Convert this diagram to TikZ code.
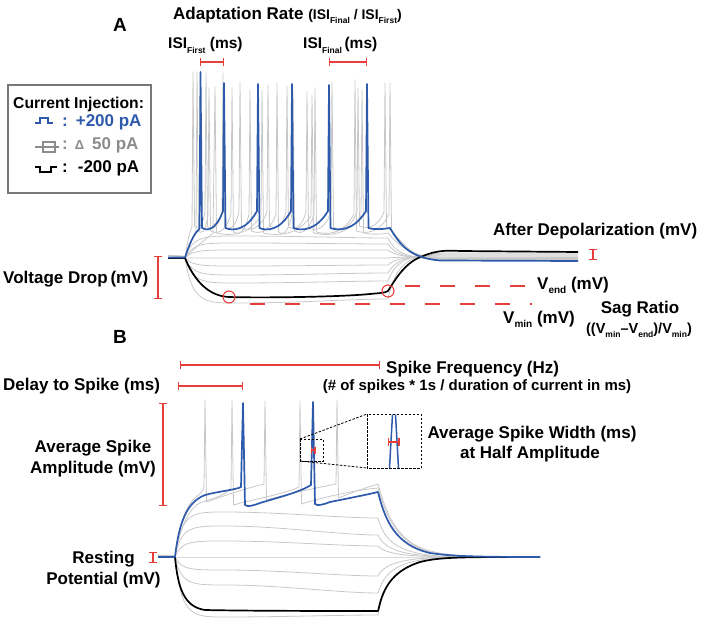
\documentclass[tikz,border=0pt]{standalone}
\usepackage{fontspec}
\setmainfont{Liberation Sans}
\usetikzlibrary{arrows.meta}
\definecolor{tblue}{RGB}{46,90,172}
\definecolor{tred}{RGB}{232,62,58}
\definecolor{tgray}{RGB}{200,200,200}
\definecolor{lgray}{RGB}{140,140,140}
\definecolor{bgray}{RGB}{120,120,120}
\newcommand{\lsub}[2][8.5]{\raisebox{-0.28em}{\fontsize{#1}{#1}\selectfont #2}}
\newcommand{\gsubA}[3]{\draw[graytr] (185,258) .. controls (192,#1) and (205,#1) .. (235,#1) .. controls (300,#1) and (350,#2) .. (388,#2) .. controls (396,{#2+0.8*(#3-#2)}) and (410,#3) .. (450,#3) -- (578,#3);}
\newcommand{\gsubB}[2]{\draw[graytr] (175,557) .. controls (181,#1) and (192,#1) .. (225,#1) .. controls (280,#1) and (340,#2) .. (378,#2) .. controls (386,{#2+0.75*(557-#2)}) and (405,557) .. (470,557) -- (540,557);}
\begin{document}
\begin{tikzpicture}[x=1pt,y=-1pt,
 lbl/.style={font={\bfseries\fontsize{17}{19}\selectfont}, inner sep=0pt},
 graytr/.style={draw=tgray, line width=0.8pt, line join=round},
 bluetr/.style={draw=tblue, line width=1.7pt, line join=round},
 blacktr/.style={draw=black, line width=1.7pt, line join=round},
 redbar/.style={draw=tred, line width=1.2pt, {Bar[width=8pt]}-{Bar[width=8pt]}},
 reddash/.style={draw=tred, line width=1.2pt, dash pattern=on 15pt off 20pt},
 zoomdash/.style={draw=black, line width=0.8pt, dash pattern=on 2.5pt off 1.5pt}]
\useasboundingbox (0,0) rectangle (702,623);

% ---------------- Panel A traces ----------------
\draw[graytr, line width=1.6pt] (168,255.5) -- (185,256.5);
\gsubA{236}{238}{259}
\gsubA{243}{244}{259}
\gsubA{250}{250}{258}
\gsubA{258}{258}{257}
\gsubA{266}{265}{256}
\gsubA{275}{273}{255}
\gsubA{283}{281}{254}
\gsubA{303}{299}{253}
% gray spiking traces
\draw[graytr] (185,258) .. controls (187,245) and (189,233) .. (192,227) -- (193,72)
 \foreach \pa/\nx/\hh/\tr in {193/206/73/226, 206/223/73/227, 223/240/82/227, 240/268/85/228, 268/287/86/226, 287/307/92/227, 307/332/82/228, 332/358/88/227, 358/385/83/226}
 { -- (\pa+1.5,\tr) .. controls ({\pa+0.3*(\nx-\pa)},\tr+3) and ({\nx-0.3*(\nx-\pa)},\tr+3) .. (\nx-1,212) -- (\nx,\hh) }
 -- (386.5,227) .. controls (395,232) and (405,250) .. (420,256) .. controls (430,259) and (440,259) .. (455,258.5) -- (578,258.5);
\draw[graytr] (185,258) .. controls (188,248) and (192,238) .. (196,231) -- (197,72)
 \foreach \pa/\nx/\hh/\tr in {197/209/88/231, 209/232/88/231, 232/250/90/232, 250/277/83/231, 277/293/90/232, 293/315/88/231, 315/355/80/232, 355/390/83/231}
 { -- (\pa+1.5,\tr) .. controls ({\pa+0.3*(\nx-\pa)},\tr+3) and ({\nx-0.3*(\nx-\pa)},\tr+3) .. (\nx-1,214) -- (\nx,\hh) }
 -- (391.5,230) .. controls (398,238) and (405,252) .. (420,257) .. controls (430,260) and (440,260) .. (455,259.5) -- (578,259.5);
\draw[graytr] (185,258) .. controls (192,250) and (205,240) .. (213,233) -- (215,87)
 \foreach \pa/\nx/\hh/\tr in {215/262/90/233, 262/312/95/233, 312/362/90/233}
 { -- (\pa+1.5,\tr) .. controls ({\pa+0.3*(\nx-\pa)},\tr+3) and ({\nx-0.3*(\nx-\pa)},\tr+3) .. (\nx-1,216) -- (\nx,\hh) }
 -- (363.5,233) .. controls (372,235) and (384,234) .. (388,233) .. controls (398,245) and (410,256) .. (440,258) -- (578,257.5);
% black trace A
\draw[blacktr] (168,258) -- (185,258) .. controls (192,275) and (205,296) .. (229,297) .. controls (260,298) and (340,297) .. (370,294) .. controls (380,293) and (385,293) .. (388,291) .. controls (395,280) and (405,262) .. (423,256) .. controls (435,251) and (445,250) .. (460,251) -- (578,252);
% blue trace A
\draw[bluetr] (168,257.5) -- (185,257.5) .. controls (189,245) and (194,233) .. (199.5,229) -- (200.5,72)
 \foreach \pa/\nx/\hh in {200.5/224/83, 224/258/84, 258/292/84, 292/329/85, 329/367/84}
 { -- (\pa+1.5,228) .. controls ({\pa+0.25*(\nx-\pa)},231) and ({\nx-0.35*(\nx-\pa)},231) .. (\nx-1,211) -- (\nx,\hh) }
 -- (368.5,228) .. controls (375,230) and (384,229) .. (390,228) .. controls (400,245) and (410,258) .. (440,260.5) -- (578,261);

% ---------------- Panel A annotations ----------------
\node[lbl, font={\bfseries\fontsize{19}{19}\selectfont}, anchor=base] (lA) at (120,32) {A};
\node[lbl, anchor=base west] (adapt) at (173,20) {Adaptation Rate {\fontsize{14}{16}\selectfont(ISI\lsub[8.5]{Final} / ISI\lsub[8.5]{First})}};
\node[lbl, anchor=base west, font={\bfseries\fontsize{15.5}{17}\selectfont}] (isif) at (168,49) {ISI\lsub{First} (ms)};
\node[lbl, anchor=base west, font={\bfseries\fontsize{15.5}{17}\selectfont}] (isil) at (303,49) {ISI\lsub{Final}\,(ms)};
\draw[redbar] (200,62) -- (224,62);
\draw[redbar] (329,62) -- (367,62);

% legend
\draw[draw=bgray, line width=1.3pt] (8,85) rectangle (151,193);
\node[lbl, anchor=base west, font={\bfseries\fontsize{15.7}{17}\selectfont}] (legt) at (13,109) {Current Injection:};
\draw[tblue, line width=2.6pt] (35,123) -- (40,123) -- (40,118) -- (48,118) -- (48,123) -- (53,123);
\node[lbl, anchor=base west, text=tblue] (leg1) at (62,127) {:\hspace{8pt}+200 pA};
\draw[lgray, line width=1.5pt] (35,147) -- (59,147);
\draw[lgray, line width=1.5pt] (43,142) rectangle (55,152);
\node[lbl, anchor=base west, text=lgray] (leg2) at (62,150) {:\hspace{7pt}{\fontsize{13}{13}\selectfont Δ}\hspace{8pt}50 pA};
\draw[black, line width=2.6pt] (35,167) -- (40,167) -- (40,172) -- (51,172) -- (51,167) -- (57,167);
\node[lbl, anchor=base west] (leg3) at (62,173) {:\hspace{10pt}-200 pA};

\node[lbl, anchor=base west] (adp) at (493,235) {After Depolarization (mV)};
\draw[redbar] (593,249) -- (593,260);
\node[lbl, anchor=base west] (vdrop) at (3,283) {Voltage Drop\,(mV)};
\draw[redbar] (158,256) -- (158,299);
\draw[tred, line width=1.1pt] (229,297) circle[radius=6pt];
\draw[tred, line width=1.1pt] (388,291) circle[radius=6pt];
\coordinate (ve0) at (405,286); \coordinate (ve1) at (532,286);
\coordinate (vm0) at (250,304); \coordinate (vm1) at (532,304);
\draw[reddash] (ve0) -- (ve1);
\draw[reddash] (vm0) -- (vm1);
\node[lbl, anchor=base west] (vend) at (537,289) {V\lsub[10]{end} (mV)};
\node[lbl, anchor=base west] (vmin) at (503,323) {V\lsub[10]{min} (mV)};
\node[lbl, anchor=base] (sag) at (640,313) {Sag Ratio};
\node[lbl, anchor=base, font={\bfseries\fontsize{14.5}{16}\selectfont}] (sagf) at (639,333) {((V\lsub[8.5]{min}–V\lsub[8.5]{end})/V\lsub[8.5]{min})};

% ---------------- Panel B traces ----------------
\draw[graytr, line width=1.6pt] (158,555.5) -- (175,556);
\gsubB{512}{518}
\gsubB{526}{535}
\gsubB{541}{546}
\gsubB{557}{557}
\gsubB{570}{576}
\gsubB{585}{593}
\gsubB{617}{615}
\draw[graytr] (175,557) .. controls (179,525) and (186,505) .. (196,497) .. controls (200,494) and (203,492) .. (204,486) -- (205,400)
 \foreach \pa/\nx/\hh/\tr in {205/265/401/502, 265/337/400/500}
 { -- (\pa+1.5,\tr) .. controls ({\pa+0.25*(\nx-\pa)},\tr-5) and ({\nx-0.3*(\nx-\pa)},488) .. (\nx-1,484) -- (\nx,\hh) }
 -- (338.5,498) .. controls (350,493) and (368,487) .. (378,484) .. controls (386,512) and (396,542) .. (430,551) .. controls (450,556) and (470,557) .. (540,557);
\draw[graytr] (175,557) .. controls (180,528) and (188,508) .. (202,502) .. controls (215,498) and (226,495) .. (231,488) -- (232,400)
 -- (233.5,505) .. controls (250,500) and (285,494) .. (299,487) -- (300,401)
 -- (301.5,504) .. controls (320,498) and (355,490) .. (378,488) .. controls (386,515) and (396,543) .. (430,552) .. controls (450,556) and (470,557) .. (540,557);
\draw[blacktr] (158,557) -- (175,557) .. controls (178,590) and (185,607) .. (205,610) .. controls (250,611) and (340,611) .. (378,611) -- (380,603) .. controls (385,585) and (395,570) .. (420,562) .. controls (440,557) and (460,557) .. (540,557);
\draw[bluetr] (158,557) -- (175,557) .. controls (179,522) and (187,502) .. (205,495) .. controls (220,491) and (235,490) .. (241,487) -- (243,403) -- (245,505) .. controls (248,507) and (252,506) .. (260,503) .. controls (280,497) and (300,492) .. (311,485) -- (313,402) -- (315,504) .. controls (318,506) and (322,505) .. (330,502) .. controls (350,498) and (370,494) .. (378,492) .. controls (385,520) and (395,545) .. (430,553) .. controls (450,556) and (470,557) .. (540,557);

% ---------------- Panel B annotations ----------------
\node[lbl, font={\bfseries\fontsize{19}{19}\selectfont}, anchor=base] (lB) at (120,343) {B};
\draw[redbar] (180,365) -- (380,365);
\node[lbl, anchor=base west] (sfreq) at (386,373) {Spike Frequency (Hz)};
\node[lbl, anchor=base, font={\bfseries\fontsize{15}{17}\selectfont}] (sfreq2) at (477,390) {(\# of spikes * 1s / duration of current in ms)};
\node[lbl, anchor=base west] (delay) at (3,390) {Delay to Spike (ms)};
\draw[redbar] (178,386) -- (243,386);
\node[lbl, anchor=base] (amp1) at (93,452) {Average Spike};
\node[lbl, anchor=base] (amp2) at (93,473) {Amplitude (mV)};
\draw[redbar] (163,403) -- (163,506);
\node[lbl, anchor=base] (rest1) at (103.5,563) {Resting};
\node[lbl, anchor=base] (rest2) at (103.5,584) {Potential (mV)};
\draw[redbar] (153,552) -- (153,563);
% zoom boxes
\draw[zoomdash] (300,439) rectangle (323,461);
\draw[zoomdash] (367,414) rectangle (421,468);
\draw[zoomdash] (300,439) -- (367,414);
\draw[zoomdash] (300,461) -- (367,468);
\draw[draw=tred, line width=1.3pt, {Bar[width=7pt]}-{Bar[width=7pt]}] (310.5,450) -- (315.5,450);
\draw[tblue, line width=1.5pt] (389.5,468) -- (392.5,414.5);
\draw[tblue, line width=1.5pt] (398.5,468) -- (395.5,414.5);
\draw[draw=tred, line width=1.3pt, {Bar[width=8pt]}-{Bar[width=8pt]}] (388,442) -- (399.5,442);
\node[lbl, anchor=base] (wid1) at (532,438) {Average Spike Width (ms)};
\node[lbl, anchor=base] (wid2) at (530,458) {at Half Amplitude};
\end{tikzpicture}
\end{document}
